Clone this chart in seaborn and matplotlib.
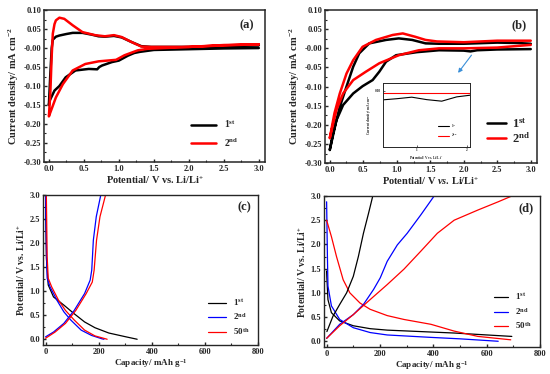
import numpy as np
import pandas as pd
import matplotlib
matplotlib.use("Agg")
import matplotlib.pyplot as plt
import seaborn as sns
from matplotlib.ticker import MultipleLocator

# ---- (a) CV, loop path: cathodic branch 3.0 -> 0.0 then anodic 0.0 -> 3.0
a1_v = [3.0, 2.5, 2.0, 1.5, 1.3, 1.22, 1.13, 1.0, 0.9, 0.76, 0.72, 0.69, 0.57, 0.38, 0.24, 0.15, 0.08, 0.01, 0.0,
        0.02, 0.04, 0.056, 0.1, 0.15, 0.25, 0.34, 0.48, 0.62, 0.71, 0.8, 0.93, 1.04, 1.18, 1.32, 1.46, 2.0, 2.5, 3.0]
a1_i = [0.0, -0.001, -0.003, -0.005, -0.01, -0.013, -0.02, -0.033, -0.037, -0.046, -0.05, -0.056, -0.055, -0.059, -0.077, -0.1, -0.112, -0.139, -0.15,
        -0.07, 0.0, 0.022, 0.03, 0.033, 0.037, 0.04, 0.04, 0.035, 0.031, 0.03, 0.032, 0.028, 0.016, 0.005, 0.003, 0.003, 0.005, 0.007]
a2_v = [3.0, 2.5, 2.0, 1.41, 1.27, 1.08, 0.96, 0.71, 0.52, 0.34, 0.2, 0.1, 0.03, 0.0,
        0.02, 0.04, 0.056, 0.08, 0.1, 0.15, 0.22, 0.34, 0.48, 0.66, 0.8, 0.93, 1.04, 1.18, 1.32, 1.46, 2.0, 2.5, 3.0]
a2_i = [0.01, 0.007, 0.003, -0.002, -0.006, -0.019, -0.031, -0.035, -0.042, -0.059, -0.095, -0.13, -0.165, -0.18,
        -0.12, -0.02, 0.038, 0.063, 0.073, 0.08, 0.077, 0.06, 0.042, 0.034, 0.031, 0.034, 0.029, 0.016, 0.004, 0.003, 0.003, 0.008, 0.01]

# ---- (b) CV
b1_v = [3.0, 2.5, 2.2, 2.1, 2.0, 1.63, 1.3, 0.99, 0.84, 0.74, 0.64, 0.49, 0.35, 0.2, 0.1, 0.0,
        0.05, 0.15, 0.25, 0.35, 0.44, 0.59, 0.84, 1.03, 1.23, 1.43, 1.63, 2.0, 2.5, 2.8, 3.0]
b1_i = [-0.002, -0.003, -0.005, -0.008, -0.006, -0.005, -0.01, -0.018, -0.035, -0.061, -0.083, -0.099, -0.118, -0.148, -0.188, -0.266,
        -0.222, -0.153, -0.1, -0.048, -0.013, 0.013, 0.022, 0.026, 0.022, 0.013, 0.012, 0.012, 0.015, 0.014, 0.012]
b2_v = [3.0, 2.5, 2.0, 1.63, 1.33, 1.03, 0.74, 0.54, 0.35, 0.2, 0.1, 0.0,
        0.07, 0.15, 0.25, 0.35, 0.49, 0.69, 0.94, 1.09, 1.28, 1.43, 1.6, 2.0, 2.5, 2.8, 3.0]
b2_i = [0.009, 0.002, 0.0, 0.0, -0.005, -0.018, -0.039, -0.061, -0.083, -0.118, -0.161, -0.235,
        -0.17, -0.118, -0.066, -0.031, 0.004, 0.022, 0.035, 0.039, 0.03, 0.022, 0.018, 0.016, 0.02, 0.02, 0.02]

# ---- (b) inset
ins_v = [0.3, 0.6, 0.9, 1.2, 1.5, 1.8, 2.1]
ins1_i = [-0.006, -0.0052, -0.0042, -0.0058, -0.0068, -0.004, -0.0028]
ins2_i = [-0.0015, -0.0015, -0.0015, -0.0015, -0.0015, -0.0015, -0.0015]

# ---- (c) charge/discharge
c1d_q = [0, 3, 10, 30, 69, 108, 147, 186, 238, 303, 345]
c1d_v = [3.0, 1.7, 1.13, 0.88, 0.71, 0.53, 0.36, 0.24, 0.13, 0.05, 0.0]
c2d_q = [0, 4, 6, 17, 43, 69, 95, 134, 173, 212, 220]
c2d_v = [3.0, 1.72, 1.27, 1.09, 0.81, 0.57, 0.4, 0.19, 0.08, 0.01, 0.0]
c2c_q = [0, 30, 69, 108, 147, 168, 174, 180, 191, 208]
c2c_v = [0.05, 0.15, 0.33, 0.6, 0.95, 1.23, 1.44, 2.06, 2.55, 3.0]
c50d_q = [3, 6, 10, 23, 49, 75, 108, 147, 186, 232]
c50d_v = [3.0, 1.72, 1.27, 1.09, 0.81, 0.6, 0.4, 0.19, 0.07, 0.0]
c50c_q = [0, 36, 75, 114, 153, 176, 183, 192, 205, 226]
c50c_v = [0.02, 0.15, 0.33, 0.6, 0.95, 1.19, 1.44, 2.06, 2.55, 3.0]

# ---- (d) charge/discharge
d1d_q = [0, 1, 5, 18, 49, 100, 163, 227, 352, 478, 694]
d1d_v = [1.45, 1.3, 0.86, 0.59, 0.42, 0.32, 0.26, 0.23, 0.2, 0.17, 0.1]
d1c_q = [1, 24, 49, 75, 100, 119, 138, 157, 173]
d1c_v = [0.2, 0.52, 0.76, 1.0, 1.34, 1.75, 2.23, 2.64, 3.0]
d2d_q = [0, 3, 5, 18, 49, 100, 163, 227, 391, 500, 643]
d2d_v = [2.88, 1.75, 1.14, 0.73, 0.45, 0.28, 0.18, 0.13, 0.08, 0.05, 0.0]
d2c_q = [0, 49, 100, 138, 176, 201, 227, 265, 302, 353, 403]
d2c_v = [0.06, 0.35, 0.55, 0.76, 1.07, 1.31, 1.65, 1.99, 2.23, 2.61, 3.0]
d50d_q = [0, 18, 37, 62, 87, 125, 163, 227, 290, 391, 478, 567, 690]
d50d_v = [2.5, 2.16, 1.75, 1.27, 1.0, 0.79, 0.66, 0.53, 0.45, 0.35, 0.21, 0.1, 0.03]
d50c_q = [0, 49, 100, 163, 227, 290, 353, 415, 478, 567, 643, 690]
d50c_v = [0.06, 0.32, 0.55, 0.86, 1.17, 1.49, 1.86, 2.23, 2.5, 2.71, 2.88, 2.99]

sns.set_style("ticks")
plt.rcParams['font.family'] = ['Liberation Serif', 'DejaVu Serif']
plt.rcParams['font.weight'] = 'bold'
plt.rcParams['axes.labelweight'] = 'bold'
plt.rcParams['mathtext.fontset'] = 'custom'
plt.rcParams['mathtext.rm'] = 'Liberation Serif:bold'
plt.rcParams['mathtext.it'] = 'Liberation Serif:italic:bold'
plt.rcParams['mathtext.bf'] = 'Liberation Serif:bold'
plt.rcParams['xtick.direction'] = 'in'
plt.rcParams['ytick.direction'] = 'in'

fig = plt.figure(figsize=(5.5, 3.74), dpi=100)
ax_a = fig.add_axes([0.080, 0.567, 0.402, 0.406])
ax_b = fig.add_axes([0.591, 0.564, 0.385, 0.409])
ax_c = fig.add_axes([0.078, 0.0775, 0.391, 0.401])
ax_d = fig.add_axes([0.589, 0.072, 0.393, 0.404])

lab1 = r'1$^{\mathrm{st}}$'
lab2 = r'2$^{\mathrm{nd}}$'
lab50 = r'50$^{\mathrm{th}}$'


def line(ax, x, y, color, lw, label=None):
    sns.lineplot(x=x, y=y, ax=ax, color=color, lw=lw, sort=False, estimator=None, label=label)


def style_cv(ax, tag):
    ax.set_xlim(-0.07, 3.09)
    ax.set_ylim(-0.30, 0.10)
    ax.xaxis.set_major_locator(MultipleLocator(0.5))
    ax.xaxis.set_minor_locator(MultipleLocator(0.25))
    ax.yaxis.set_minor_locator(MultipleLocator(0.025))
    ticks = np.arange(-0.30, 0.101, 0.05)
    ax.set_yticks(ticks)
    ax.set_yticklabels(['%.2f' % v for v in ticks])
    ax.tick_params(labelsize=6, width=1, length=2.5, pad=2)
    ax.tick_params(which='minor', length=1.5, width=0.8)
    for s in ax.spines.values():
        s.set_linewidth(1.1)
    ax.set_ylabel(r'Current density/ mA cm$^{-2}$', fontsize=7.5, labelpad=2)
    ax.text(0.95, 0.88, tag, transform=ax.transAxes, ha='right', fontsize=9, fontweight='bold')


def style_gcd(ax, tag):
    ax.set_xlim(-10, 800)
    ax.set_ylim(-0.12, 3.0)
    ax.xaxis.set_major_locator(MultipleLocator(200))
    ax.xaxis.set_minor_locator(MultipleLocator(100))
    ax.yaxis.set_major_locator(MultipleLocator(0.5))
    ax.yaxis.set_minor_locator(MultipleLocator(0.25))
    ax.tick_params(labelsize=6, width=1, length=2.5, pad=2)
    ax.tick_params(which='minor', length=1.5, width=0.8)
    for s in ax.spines.values():
        s.set_linewidth(1.0)
    ax.set_xlabel(r'Capacity/ mAh g$^{-1}$', fontsize=6.5, labelpad=1)
    ax.set_ylabel(r'Potential/ V vs. Li/Li$^{+}$', fontsize=7, labelpad=2)
    ax.text(0.97, 0.9, tag, transform=ax.transAxes, ha='right', fontsize=9, fontweight='bold')


# (a)
line(ax_a, a1_v, a1_i, 'black', 1.8, lab1)
line(ax_a, a2_v, a2_i, 'red', 1.8, lab2)
style_cv(ax_a, '(a)')
ax_a.set_xlabel(r'Potential/ V vs. Li/Li$^{+}$', fontsize=7.5, labelpad=1)
ax_a.legend(loc='lower right', bbox_to_anchor=(0.92, 0.03), frameon=False, fontsize=7,
            handlelength=2.6, labelspacing=0.6)

# (b)
line(ax_b, b1_v, b1_i, 'black', 1.8, lab1)
line(ax_b, b2_v, b2_i, 'red', 1.8, lab2)
style_cv(ax_b, '(b)')
ax_b.set_xlabel(r'Potential/ V $vs$. Li/Li$^{+}$', fontsize=7.5, labelpad=1)
ax_b.legend(loc='lower right', bbox_to_anchor=(1.02, 0.04), frameon=False, fontsize=9,
            handlelength=1.5, handletextpad=0.5, labelspacing=0.05)
ax_b.annotate('', xy=(1.89, -0.07), xytext=(2.14, -0.012),
              arrowprops=dict(arrowstyle='-|>', color='#3a8fd8', lw=0.8, mutation_scale=6))

ins = fig.add_axes([0.696, 0.607, 0.158, 0.171])
line(ins, ins_v, ins1_i, 'black', 0.8, lab1)
line(ins, ins_v, ins2_i, 'red', 0.8, lab2)
ins.set_xlim(0.32, 2.06)
ins.set_ylim(-0.0366, 0.005)
ins.set_xticks([1.0, 2.0])
ins.set_yticks([0.0])
ins.set_yticklabels(['0.00'])
ins.tick_params(labelsize=2.5, length=1.2, width=0.5, pad=1)
for s in ins.spines.values():
    s.set_linewidth(0.7)
ins.set_xlabel(r'Potential/ V vs. Li/Li$^{+}$', fontsize=2.5, labelpad=1)
ins.set_ylabel(r'Current density/ mA cm$^{-2}$', fontsize=2.5, labelpad=1)
ins.legend(loc='lower right', bbox_to_anchor=(0.9, 0.08), frameon=False, fontsize=2.5,
           handlelength=3, labelspacing=0.5)

# (c)
line(ax_c, c1d_q, c1d_v, 'black', 0.9, lab1)
line(ax_c, c2d_q, c2d_v, 'blue', 0.9, lab2)
line(ax_c, c50d_q, c50d_v, 'red', 0.9, lab50)
line(ax_c, c2c_q, c2c_v, 'blue', 0.9)
line(ax_c, c50c_q, c50c_v, 'red', 0.9)
style_gcd(ax_c, '(c)')
ax_c.legend(loc='lower right', bbox_to_anchor=(1.0, 0.0), frameon=False, fontsize=6.5,
            handlelength=2.0, labelspacing=0.4)

# (d)
line(ax_d, d1d_q, d1d_v, 'black', 0.9, lab1)
line(ax_d, d2d_q, d2d_v, 'blue', 0.9, lab2)
line(ax_d, d50d_q, d50d_v, 'red', 0.9, lab50)
line(ax_d, d1c_q, d1c_v, 'black', 0.9)
line(ax_d, d2c_q, d2c_v, 'blue', 0.9)
line(ax_d, d50c_q, d50c_v, 'red', 0.9)
style_gcd(ax_d, '(d)')
ax_d.legend(loc='lower right', bbox_to_anchor=(1.0, 0.05), frameon=False, fontsize=6.5,
            handlelength=1.6, labelspacing=0.4)

fig.savefig('out.png', dpi=100)
